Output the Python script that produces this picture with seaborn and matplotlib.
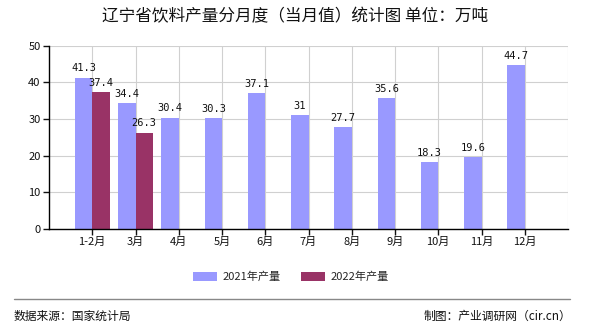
import matplotlib
matplotlib.use("Agg")
import matplotlib.pyplot as plt
import seaborn as sns
import pandas as pd
import numpy as np
from matplotlib.patches import Patch
from matplotlib.lines import Line2D

months = ["1-2月", "3月", "4月", "5月", "6月", "7月", "8月", "9月", "10月", "11月", "12月"]
v2021 = [41.3, 34.4, 30.4, 30.3, 37.1, 31, 27.7, 35.6, 18.3, 19.6, 44.7]
v2022 = [37.4, 26.3, None, None, None, None, None, None, None, None, None]
series = ["2021年产量", "2022年产量"]
colors = ["#9999FF", "#993366"]

sns.set_theme(style="white")
plt.rcParams['font.family'] = ['Noto Sans CJK SC', 'DejaVu Sans']

rows = []
for m, a, b in zip(months, v2021, v2022):
    rows.append({"month": m, "series": series[0], "value": a})
    rows.append({"month": m, "series": series[1], "value": np.nan if b is None else b})
df = pd.DataFrame(rows)

fig = plt.figure(figsize=(5.9, 3.3), dpi=100)
ax = fig.add_axes([49/590, 1-229/330, (568-49)/590, (229-45.7)/330])

sns.barplot(data=df, x="month", y="value", hue="series", order=months,
            hue_order=series, palette=colors, width=0.8, saturation=1,
            linewidth=0, edgecolor="none", ax=ax, legend=False)

for cont in ax.containers:
    labels = []
    for bar in cont:
        h = bar.get_height()
        labels.append("" if (h is None or np.isnan(h)) else f"{h:g}")
    ax.bar_label(cont, labels=labels, padding=3, fontsize=7.5,
                 family=['DejaVu Sans Mono'], color="#111111")

ax.set_xlim(-1, 11)
ax.set_ylim(0, 50)
ax.set_yticks([0, 10, 20, 30, 40, 50])
ax.set_xticks(range(len(months)))
ax.set_xticklabels(months)
ax.set_xlabel("")
ax.set_ylabel("")
ax.tick_params(axis="both", labelsize=8, colors="#111111", length=4, width=1,
               direction="out", pad=2)
ax.tick_params(axis="x", bottom=True)
ax.tick_params(axis="y", left=True)

ax.grid(True, axis="y", color="#d0d0d0", linewidth=0.8)
ax.grid(True, axis="x", color="#d0d0d0", linewidth=0.8)
ax.set_axisbelow(True)
for s in ["top", "right"]:
    ax.spines[s].set_visible(False)
ax.axvline(11, color="#d0d0d0", linewidth=0.8, zorder=0)
for s in ["left", "bottom"]:
    ax.spines[s].set_color("#000000")
    ax.spines[s].set_linewidth(1)

fig.text(0.5, 1-17/330, "辽宁省饮料产量分月度（当月值）统计图 单位：万吨",
         ha="center", va="center", fontsize=12, color="#111111")

handles = [Patch(facecolor=c, edgecolor="none") for c in colors]
fig.legend(handles, series, loc="center", bbox_to_anchor=(291/590, 1-277/330),
           ncol=2, frameon=False, fontsize=8, handlelength=2.2, handleheight=0.9,
           columnspacing=1.8, handletextpad=0.5)

fig.add_artist(Line2D([14/590, 570/590], [1-299/330, 1-299/330],
                      color="#888888", linewidth=1))
fig.text(14/590, 1-316/330, "数据来源：国家统计局", ha="left", va="center",
         fontsize=8.5, color="#111111")
fig.text(571/590, 1-316/330, "制图：产业调研网（cir.cn）", ha="right", va="center",
         fontsize=8.5, color="#111111")

fig.savefig("out.png", dpi=100)
